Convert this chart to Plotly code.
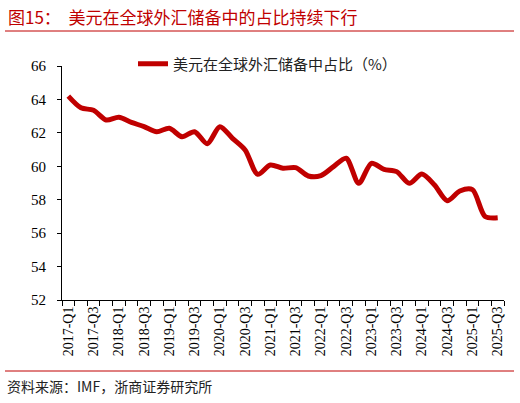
import plotly.graph_objects as go

quarters = [f"{y}-Q{q}" for y in range(2017, 2026) for q in range(1, 5)][:35]
usd_share = [64.2, 63.5, 63.35, 62.77, 62.93, 62.63, 62.37, 62.07, 62.27, 61.77,
             62.07, 61.35, 62.37, 61.67, 60.98, 59.52, 60.08, 59.88, 59.92, 59.42,
             59.44, 59.98, 60.48, 58.98, 60.18, 59.82, 59.68, 58.98, 59.54, 58.88,
             57.94, 58.52, 58.6, 57.0, 56.92]
tick_labels = quarters[::2]
y_ticks = [52, 54, 56, 58, 60, 62, 64, 66]

W, H = 520, 403
L, R, T, B = 62, 16, 66, 103
pw, ph = W - L - R, H - T - B

def px(x):
    return (x - L) / pw

def py(y):
    return (H - B - y) / ph

RED = "#C00000"
CJK = "Noto Sans CJK SC"
SERIF = "Liberation Serif"

xs = list(range(len(quarters)))
fig = go.Figure()
fig.add_trace(go.Scatter(
    x=xs, y=usd_share, mode="lines", line=dict(color=RED, width=5, shape="spline", smoothing=0.8),
    name="美元在全球外汇储备中占比（%）", showlegend=True,
))

fig.update_layout(
    width=W, height=H, margin=dict(l=L, r=R, t=T, b=B, autoexpand=False),
    paper_bgcolor="white", plot_bgcolor="white",
    font=dict(family=SERIF, size=14, color="black"),
    showlegend=True,
    legend=dict(x=px(133), y=py(64), xanchor="left", yanchor="middle",
                font=dict(family=CJK, size=15, color="#222"), bgcolor="rgba(0,0,0,0)",
                itemwidth=30),
    xaxis=dict(range=[-0.5, len(quarters) - 0.5], tickmode="array",
               tickvals=xs[::2], ticktext=tick_labels, tickangle=-90,
               ticks="", showline=True, linecolor="black", linewidth=1,
               showgrid=False, zeroline=False, automargin=False,
               tickfont=dict(family=SERIF, size=14, color="black"),
               minor=dict(tickmode="linear", tick0=-0.5, dtick=1, ticks="outside",
                          ticklen=5, tickcolor="black", tickwidth=1, showgrid=False)),
    yaxis=dict(range=[52, 66], tickmode="array", tickvals=y_ticks,
               ticks="outside", ticklen=4, tickcolor="black", showline=True,
               linecolor="black", linewidth=1, showgrid=False, zeroline=False,
               ticklabelstandoff=8, automargin=False,
               tickfont=dict(family=SERIF, size=15, color="black")),
)

fig.add_shape(type="line", xref="paper", yref="paper", x0=px(5), x1=px(514),
              y0=py(31), y1=py(31), line=dict(color=RED, width=1))
fig.add_shape(type="line", xref="paper", yref="paper", x0=px(5), x1=px(514),
              y0=py(371), y1=py(371), line=dict(color=RED, width=1))

fig.add_annotation(xref="paper", yref="paper", x=px(6), y=py(16), xanchor="left", yanchor="middle",
                   text="图15：  美元在全球外汇储备中的占比持续下行", showarrow=False,
                   font=dict(family=CJK, size=17, color=RED))
fig.add_annotation(xref="paper", yref="paper", x=px(5), y=py(386), xanchor="left", yanchor="middle",
                   text="资料来源：IMF，浙商证券研究所", showarrow=False,
                   font=dict(family=CJK, size=14, color="#222"))

fig.write_html("out.html", config={"displayModeBar": False},
               post_script="document.body.style.margin='0px';")
